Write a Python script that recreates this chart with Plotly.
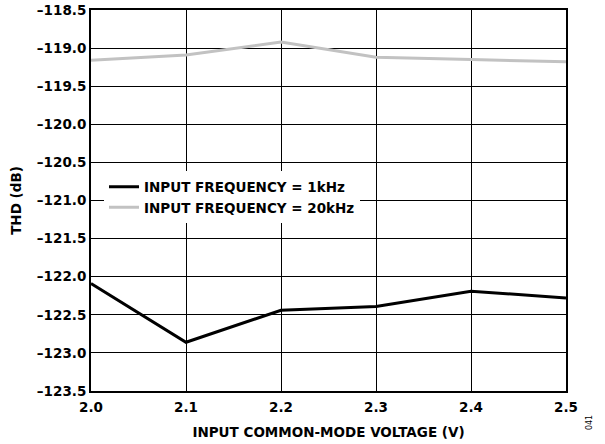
import plotly.graph_objects as go

x_vals = [2.0, 2.1, 2.2, 2.3, 2.4, 2.5]
thd_1khz = [-122.09, -122.86, -122.44, -122.39, -122.19, -122.28]
thd_20khz = [-119.16, -119.09, -118.92, -119.12, -119.15, -119.18]
x_ticks = [2.0, 2.1, 2.2, 2.3, 2.4, 2.5]
y_ticks = [-118.5, -119.0, -119.5, -120.0, -120.5, -121.0, -121.5, -122.0, -122.5, -123.0, -123.5]

font = "DejaVu Sans, Arial, sans-serif"
fs = 13.5

fig = go.Figure()
fig.add_trace(go.Scatter(x=x_vals, y=thd_1khz, mode="lines",
                         line=dict(color="black", width=3),
                         name="<b>INPUT FREQUENCY = 1kHz</b>"))
fig.add_trace(go.Scatter(x=x_vals, y=thd_20khz, mode="lines",
                         line=dict(color="#c2c2c2", width=3),
                         name="<b>INPUT FREQUENCY = 20kHz</b>"))

fig.update_layout(
    width=605, height=444,
    margin=dict(l=91, r=39, t=10, b=53, autoexpand=False),
    paper_bgcolor="white", plot_bgcolor="white",
    font=dict(family=font, color="black", size=fs),
    showlegend=True,
    legend=dict(x=0.0274, y=0.508, xanchor="left", yanchor="middle",
                bgcolor="white", borderwidth=0,
                font=dict(family=font, size=fs, color="black"),
                tracegroupgap=0, itemwidth=30),
)
fig.update_xaxes(
    range=[2.0, 2.5], tickvals=x_ticks,
    ticktext=[f"<b>{v:.1f}</b>" for v in x_ticks],
    showgrid=True, gridcolor="black", gridwidth=1,
    showline=True, linecolor="black", linewidth=2, mirror=True,
    ticks="", zeroline=False, automargin=False, ticklabelstandoff=3,
    tickfont=dict(family=font, size=fs),
    title=dict(text="<b>INPUT COMMON-MODE VOLTAGE (V)</b>", font=dict(family=font, size=fs), standoff=13),
)
fig.update_yaxes(
    range=[-123.5, -118.5], tickvals=y_ticks,
    ticktext=[f"<b>{v:.1f}</b>".replace("-", "\u2013") for v in y_ticks],
    showgrid=True, gridcolor="black", gridwidth=1,
    showline=True, linecolor="black", linewidth=2, mirror=True,
    ticks="", zeroline=False, automargin=False,
    tickfont=dict(family=font, size=fs),
    title=dict(text="<b>THD (dB)</b>", font=dict(family=font, size=fs), standoff=12),
)
fig.add_annotation(text="041", xref="paper", yref="paper", x=1.063, y=-0.108,
                   showarrow=False, textangle=-90, font=dict(family=font, size=8, color="black"))

fig.write_html("out.html", config={"displayModeBar": False},
               post_script="document.body.style.margin='0';")
